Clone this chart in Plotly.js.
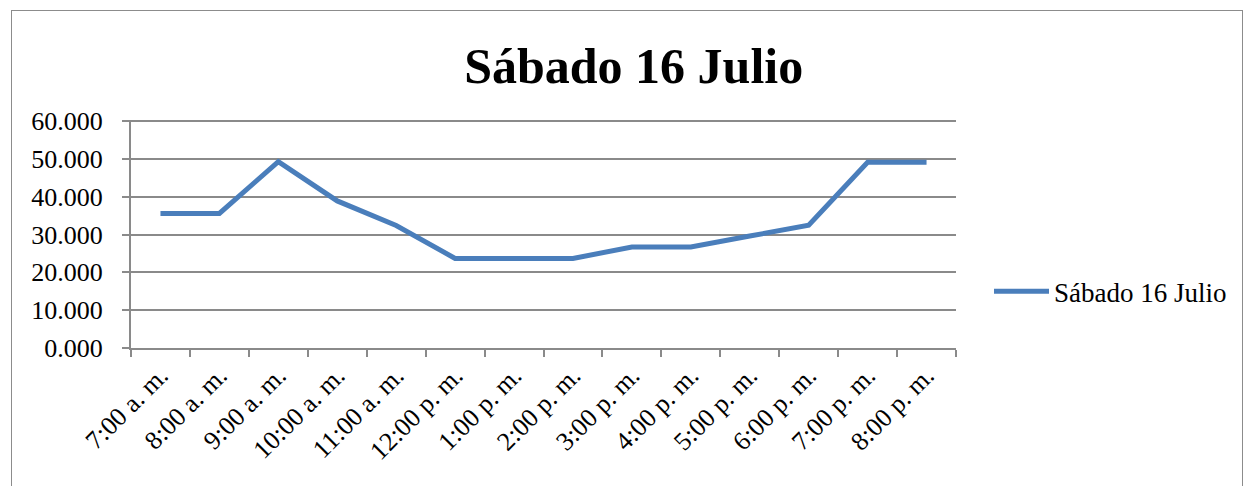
<!DOCTYPE html>
<html>
<head>
<meta charset="utf-8">
<script src="https://cdn.plot.ly/plotly-3.0.1.min.js"></script>
<style>
html,body{margin:0;padding:0;background:#fff;}
#wrap{position:absolute;left:0;top:0;width:1245px;height:486px;}
#frame{position:absolute;left:11px;top:10px;width:1232px;height:490px;border:1.5px solid #8c8c8c;box-sizing:border-box;pointer-events:none;}
#chart{position:absolute;left:0;top:0;width:1245px;height:486px;}
</style>
</head>
<body>
<div id="wrap"><div id="chart"></div><div id="frame"></div></div>
<script>
const categories = ["7:00 a. m.","8:00 a. m.","9:00 a. m.","10:00 a. m.","11:00 a. m.","12:00 p. m.","1:00 p. m.","2:00 p. m.","3:00 p. m.","4:00 p. m.","5:00 p. m.","6:00 p. m.","7:00 p. m.","8:00 p. m."];
const values = [35.6, 35.6, 49.3, 38.9, 32.4, 23.7, 23.7, 23.7, 26.7, 26.7, 29.6, 32.5, 49.1, 49.1];
const seriesName = "Sábado 16 Julio";
const titleText = "Sábado 16 Julio";
const yTicks = [0, 10, 20, 30, 40, 50, 60];
const yTickText = ["0.000","10.000","20.000","30.000","40.000","50.000","60.000"];

const font = "Liberation Serif, Times New Roman, serif";
const trace = {
  x: categories, y: values, type: "scatter", mode: "lines", name: seriesName,
  line: {color: "#4A7EBB", width: 5}
};
const layout = {
  width: 1245, height: 486,
  margin: {l: 131, r: 289, t: 120, b: 138},
  paper_bgcolor: "#fff", plot_bgcolor: "#fff",
  font: {family: font, color: "#000", size: 25},
  title: {text: "<b>" + titleText + "</b>", font: {family: font, size: 50, color: "#000"},
          x: 0.509, xanchor: "center", xref: "container", y: 0.866, yanchor: "middle", yref: "container"},
  xaxis: {type: "category", tickson: "boundaries", ticks: "outside", ticklen: 7, tickcolor: "#8a8a8a", tickwidth: 2,
          showgrid: false, showline: true, linecolor: "#8a8a8a", linewidth: 2, tickangle: -45,
          tickfont: {family: font, size: 26, color: "#000"}, range: [-0.5, 13.5], zeroline: false},
  yaxis: {range: [0, 60.3], tickvals: yTicks, ticktext: yTickText, ticks: "outside", ticklen: 7, tickcolor: "#8a8a8a", tickwidth: 2,
          showgrid: true, gridcolor: "#8a8a8a", gridwidth: 2, showline: true, linecolor: "#8a8a8a", linewidth: 2,
          zeroline: false, tickfont: {family: font, size: 26, color: "#000"}, ticklabelstandoff: 14},
  showlegend: true,
  legend: {x: 1.04, xanchor: "left", y: 0.247, yanchor: "middle", font: {family: font, size: 27, color: "#000"},
           bgcolor: "rgba(0,0,0,0)", itemwidth: 55}
};
Plotly.newPlot("chart", [trace], layout, {displayModeBar: false, staticPlot: true});
</script>
</body>
</html>
